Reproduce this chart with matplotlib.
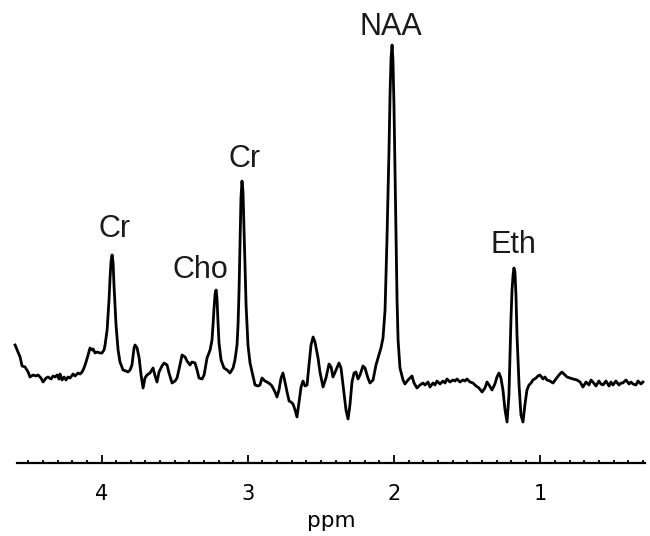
import matplotlib
matplotlib.use("Agg")
import matplotlib.pyplot as plt
from matplotlib.ticker import MultipleLocator

# spectrum: chemical shift (ppm) and signal (a.u.)
ppm = [4.591, 4.571, 4.557, 4.543, 4.523, 4.502, 4.489, 4.468, 4.448, 4.434,
       4.414, 4.400, 4.379, 4.366, 4.345, 4.332, 4.318, 4.304, 4.291, 4.284,
       4.270, 4.256, 4.243, 4.229, 4.215, 4.195, 4.181, 4.161, 4.147, 4.133,
       4.120, 4.106, 4.092, 4.079, 4.065, 4.058, 4.044, 4.031, 4.010, 3.997,
       3.983, 3.976, 3.962, 3.949, 3.942, 3.935, 3.928, 3.921, 3.915, 3.901,
       3.887, 3.874, 3.853, 3.833, 3.819, 3.805, 3.792, 3.778, 3.771, 3.757,
       3.743, 3.730, 3.716, 3.703, 3.689, 3.669, 3.648, 3.634, 3.621, 3.607,
       3.587, 3.573, 3.552, 3.539, 3.518, 3.498, 3.484, 3.464, 3.450, 3.429,
       3.416, 3.395, 3.382, 3.361, 3.347, 3.334, 3.313, 3.299, 3.279, 3.258,
       3.245, 3.238, 3.231, 3.224, 3.217, 3.211, 3.204, 3.197, 3.183, 3.163,
       3.142, 3.122, 3.101, 3.088, 3.074, 3.067, 3.060, 3.053, 3.047, 3.040,
       3.033, 3.026, 3.019, 3.012, 2.999, 2.985, 2.971, 2.951, 2.930, 2.917,
       2.903, 2.883, 2.869, 2.848, 2.835, 2.814, 2.801, 2.787, 2.773, 2.760,
       2.746, 2.732, 2.718, 2.705, 2.691, 2.677, 2.664, 2.650, 2.636, 2.623,
       2.609, 2.595, 2.582, 2.568, 2.554, 2.541, 2.520, 2.507, 2.486, 2.466,
       2.445, 2.431, 2.418, 2.397, 2.377, 2.363, 2.349, 2.329, 2.315, 2.302,
       2.288, 2.274, 2.261, 2.247, 2.233, 2.213, 2.199, 2.179, 2.165, 2.144,
       2.124, 2.110, 2.090, 2.076, 2.062, 2.049, 2.035, 2.028, 2.021, 2.014,
       2.008, 2.001, 1.994, 1.987, 1.980, 1.973, 1.960, 1.939, 1.926, 1.905,
       1.891, 1.878, 1.864, 1.844, 1.823, 1.803, 1.789, 1.768, 1.755, 1.734,
       1.721, 1.707, 1.686, 1.666, 1.652, 1.639, 1.618, 1.598, 1.584, 1.570,
       1.550, 1.529, 1.516, 1.502, 1.481, 1.461, 1.440, 1.420, 1.399, 1.379,
       1.365, 1.351, 1.331, 1.311, 1.297, 1.283, 1.270, 1.256, 1.242, 1.228,
       1.215, 1.208, 1.201, 1.194, 1.187, 1.181, 1.174, 1.167, 1.160, 1.146,
       1.133, 1.119, 1.106, 1.092, 1.078, 1.064, 1.051, 1.030, 1.017, 1.003,
       0.982, 0.969, 0.955, 0.935, 0.914, 0.894, 0.873, 0.853, 0.832, 0.818,
       0.798, 0.777, 0.750, 0.729, 0.709, 0.688, 0.668, 0.654, 0.641, 0.620,
       0.600, 0.586, 0.572, 0.552, 0.531, 0.518, 0.504, 0.484, 0.463, 0.449,
       0.436, 0.415, 0.394, 0.381, 0.367, 0.347, 0.333, 0.313, 0.299]

signal = [3.5, 2.8, 2.3, 1.4, 1.3, 0.8, 0.3, 0.5, 0.4, 0.5,
          0.2, -0.2, 0.2, 0.3, 0.1, 0.4, 0.3, 0.5, 0.1, 0.6,
          0.0, 0.3, 0.0, 0.3, 0.2, 0.6, 0.4, 0.7, 0.6, 0.8,
          1.2, 1.8, 2.5, 3.2, 3.0, 3.1, 2.7, 2.8, 2.7, 2.7,
          3.0, 3.5, 5.0, 8.0, 10.2, 11.9, 12.5, 11.7, 9.5, 5.5,
          3.0, 1.8, 1.0, 0.9, 0.8, 1.0, 1.5, 3.2, 3.5, 3.2,
          2.2, 0.5, -0.8, 0.2, 0.5, 0.7, 1.2, 0.4, -0.2, 0.8,
          1.4, 1.7, 1.5, 0.7, -0.3, -0.1, 0.2, 1.5, 2.5, 2.3,
          1.9, 1.5, 1.8, 1.7, 1.0, 0.2, 0.1, 0.5, 2.2, 3.0,
          4.0, 5.5, 7.2, 8.6, 9.0, 8.2, 5.8, 3.7, 2.0, 1.2,
          1.0, 0.7, 1.2, 2.0, 3.5, 5.5, 9.0, 14.0, 18.2, 19.9,
          18.8, 15.0, 11.0, 7.5, 3.5, 1.7, 0.8, -0.5, -0.6, -0.5,
          0.2, -0.1, -0.2, -0.4, -0.6, -1.2, -1.7, -1.0, 0.2, 0.7,
          -0.2, -1.2, -2.1, -2.2, -2.4, -3.0, -3.7, -2.2, -0.7, -0.1,
          -0.6, -0.5, 1.5, 3.5, 4.3, 3.8, 2.2, 0.8, -0.7, 0.2,
          1.6, 1.3, 0.3, 1.0, 1.7, 1.2, -0.5, -3.0, -3.9, -2.5,
          -0.2, 0.7, 0.8, 0.1, 0.5, 1.4, 1.2, 0.2, -0.3, 0.0,
          1.5, 2.2, 3.2, 4.2, 7.0, 14.0, 23.0, 28.5, 32.2, 33.5,
          32.0, 27.5, 21.0, 14.0, 8.0, 4.0, 1.2, 0.0, -0.4, 0.0,
          0.2, 0.4, -0.3, -0.8, -0.5, -0.3, -0.5, -0.2, -0.7, -0.3,
          -0.5, -0.1, -0.4, -0.1, -0.3, 0.1, -0.2, 0.0, -0.1, 0.1,
          -0.2, 0.0, -0.1, 0.1, -0.2, -0.3, -0.6, -0.8, -1.2, -0.8,
          -0.2, -0.5, -1.0, -0.4, 0.3, 0.7, 0.2, -1.0, -3.0, -4.2,
          -1.5, 2.5, 6.2, 9.0, 10.5, 11.2, 10.8, 8.5, 4.5, -0.5,
          -3.5, -4.2, -2.5, -1.0, -0.5, -0.3, 0.0, 0.2, 0.4, 0.5,
          0.1, 0.3, 0.0, -0.1, -0.3, 0.1, 0.5, 0.8, 0.5, 0.3,
          0.2, 0.1, 0.0, -0.2, -0.7, -0.2, -0.5, 0.0, -0.2, -0.6,
          -0.1, -0.4, -0.5, -0.1, -0.6, -0.2, -0.5, -0.1, -0.5, -0.3,
          -0.3, 0.0, -0.4, -0.2, -0.4, -0.5, -0.1, -0.4, -0.2]

# peak labels: name, label position (ppm), label baseline (a.u.)
peak_names = ["Cr", "Cho", "Cr", "NAA", "Eth"]
peak_ppm = [3.908, 3.327, 3.019, 2.021, 1.181]
label_base = [14.3, 10.2, 21.3, 34.5, 12.7]

major_ticks = [4, 3, 2, 1]

fig = plt.figure(figsize=(6.5, 5.36), dpi=100)
ax = fig.add_axes([17/650, 73/536, 628/650, 463/536])

ax.plot(ppm, signal, color="black", lw=2.0, clip_on=False, solid_joinstyle="round")

for name, x, y in zip(peak_names, peak_ppm, label_base):
    ax.text(x, y, name, ha="center", va="baseline", fontsize=22,
            family="Liberation Sans", color="#1a1a1a")

ax.set_xlim(4.578, 0.285)
ax.set_ylim(-8.3, 38.0)

for s in ["top", "left", "right"]:
    ax.spines[s].set_visible(False)
ax.spines["bottom"].set_linewidth(1.6)

ax.set_xticks(major_ticks)
ax.set_xticklabels([str(t) for t in major_ticks])
ax.xaxis.set_minor_locator(MultipleLocator(0.1))
ax.tick_params(axis="x", which="major", direction="in", length=5.5, width=1.3,
               pad=15, labelsize=15)
ax.tick_params(axis="x", which="minor", direction="in", length=2.2, width=1.3)
ax.set_yticks([])
ax.set_xlabel("ppm", fontsize=15.5, labelpad=5)

fig.savefig("out.png", dpi=100)
